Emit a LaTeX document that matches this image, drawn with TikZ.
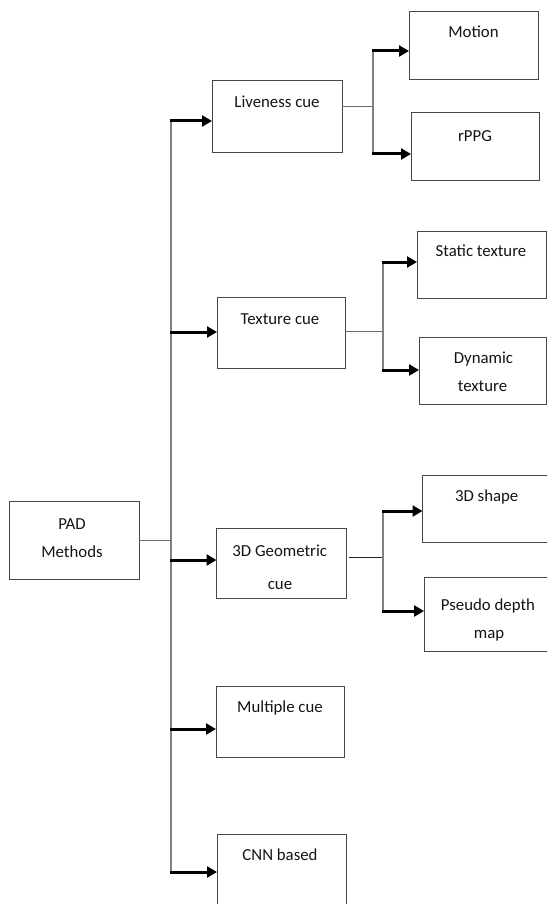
\documentclass[tikz,border=0pt]{standalone}
\usepackage{fontspec}
\setmainfont{Carlito}
\usetikzlibrary{arrows.meta}
\begin{document}
\begin{tikzpicture}[x=1pt,y=-1pt,
 box/.style={draw=black!72,line width=0.9pt,inner sep=0pt,outer sep=0pt,anchor=north west},
 txt/.style={font=\fontsize{16.8}{20}\selectfont,anchor=base,inner sep=0pt,text=black!92},
 trunkline/.style={draw=black!50,line width=1.3pt},
 thinline/.style={draw=black!58,line width=1pt},
 arr/.style={draw=black,line width=3pt,-{Triangle[length=10pt,width=11pt]}},
]
\useasboundingbox (0,0) rectangle (547,904);
\clip (0,0) rectangle (547,904);
\fill[white] (0,0) rectangle (547,904);

% boxes
\node[box,minimum width=130pt,minimum height=78pt] (pad) at (9,501) {};
\node[box,minimum width=130pt,minimum height=72pt] (live) at (212,80) {};
\node[box,minimum width=129pt,minimum height=68pt] (motion) at (409,11) {};
\node[box,minimum width=128pt,minimum height=68pt] (rppg) at (411,112) {};
\node[box,minimum width=128pt,minimum height=71pt] (tex) at (217,297) {};
\node[box,minimum width=129pt,minimum height=67pt] (stat) at (417,231) {};
\node[box,minimum width=127pt,minimum height=67pt] (dyn) at (419,337) {};
\node[box,minimum width=130pt,minimum height=70pt] (geo) at (216.5,528) {};
\node[box,minimum width=130pt,minimum height=67pt] (shape) at (422.5,475) {};
\node[box,minimum width=130pt,minimum height=74pt] (pseudo) at (424,577) {};
\node[box,minimum width=128pt,minimum height=71pt] (mult) at (216,686) {};
\node[box,minimum width=129pt,minimum height=90pt] (cnn) at (217,834) {};

% texts
\node[txt] (padA) at (72,529) {PAD};
\node[txt] (padB) at (72,557) {Methods};
\node[txt] (liveT) at (277,108) {Liveness cue};
\node[txt] (motionT) at (473.5,37.5) {Motion};
\node[txt] (rppgT) at (475,141.5) {rPPG};
\node[txt] (texT) at (280,324) {Texture cue};
\node[txt] (statT) at (481,256.5) {Static texture};
\node[txt] (dynA) at (483.5,363) {Dynamic};
\node[txt] (dynB) at (482.5,391.5) {texture};
\node[txt] (geoA) at (279.7,556.7) {3D Geometric};
\node[txt] (geoB) at (280,589) {cue};
\node[txt] (shapeT) at (486.7,501.5) {3D shape};
\node[txt] (pseudoA) at (488,610) {Pseudo depth};
\node[txt] (pseudoB) at (489,638) {map};
\node[txt] (multT) at (280,712.5) {Multiple cue};
\node[txt] (cnnT) at (280,860.5) {CNN based};

% main trunk
\coordinate (t1) at (171,121);
\coordinate (t2) at (171,332);
\coordinate (tp) at (171,540);
\coordinate (t3) at (171,560);
\coordinate (t4) at (171,729);
\coordinate (t5) at (171,872);
\draw[trunkline] (t1) -- (t5);
\draw[thinline] (pad.east |- tp) -- (tp);
\draw[arr] ([xshift=-0.6pt]t1) -- (live.west |- t1);
\draw[arr] ([xshift=-0.6pt]t2) -- (tex.west |- t2);
\draw[arr] ([xshift=-0.6pt]t3) -- (geo.west |- t3);
\draw[arr] ([xshift=-0.6pt]t4) -- (mult.west |- t4);
\draw[arr] ([xshift=-0.6pt]t5) -- (cnn.west |- t5);

% liveness branch
\coordinate (lb) at (373,107);
\coordinate (lb1) at (373,51);
\coordinate (lb2) at (373,154);
\draw[thinline] (live.east |- lb) -- (lb);
\draw[trunkline] (lb1) -- (lb2);
\draw[arr] ([xshift=-0.6pt]lb1) -- (motion.west |- lb1);
\draw[arr] ([xshift=-0.6pt]lb2) -- (rppg.west |- lb2);

% texture branch
\coordinate (xb) at (383,331);
\coordinate (xb1) at (383,262);
\coordinate (xb2) at (383,370);
\draw[thinline] (tex.east |- xb) -- (xb);
\draw[trunkline] (xb1) -- (xb2);
\draw[arr] ([xshift=-0.6pt]xb1) -- (stat.west |- xb1);
\draw[arr] ([xshift=-0.6pt]xb2) -- (dyn.west |- xb2);

% geometric branch
\coordinate (gb) at (383,557);
\coordinate (gb1) at (383,511);
\coordinate (gb2) at (383,611);
\draw[draw=black!85,line width=1pt] ([xshift=2pt]geo.east |- gb) -- (gb);
\draw[trunkline] (gb1) -- (gb2);
\draw[arr] ([xshift=-0.6pt]gb1) -- (shape.west |- gb1);
\draw[arr] ([xshift=-0.6pt]gb2) -- (pseudo.west |- gb2);
\end{tikzpicture}
\end{document}
